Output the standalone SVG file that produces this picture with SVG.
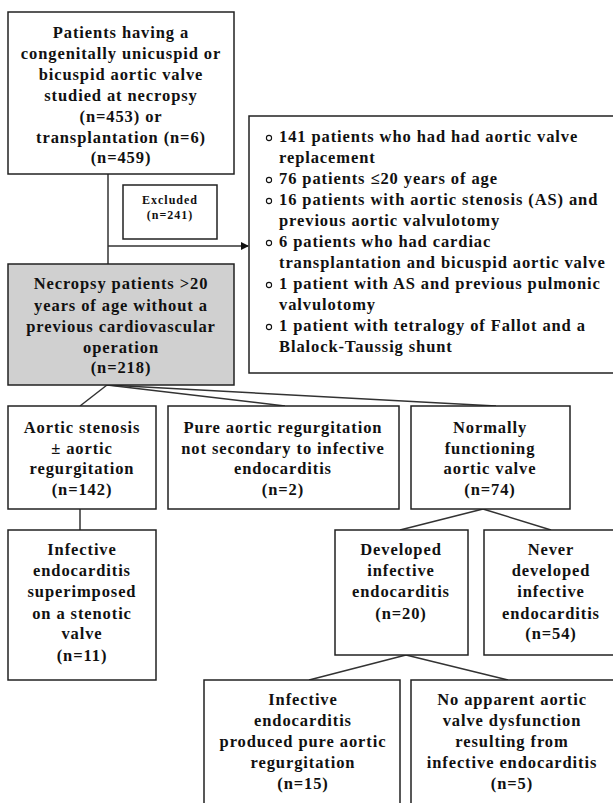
<svg xmlns="http://www.w3.org/2000/svg" width="613" height="803" viewBox="0 0 613 803">
<style>
.box{fill:#fff;stroke:#222;stroke-width:1.5}
.gray{fill:#d0d0d0;stroke:#222;stroke-width:1.5}
.t{font-family:"Liberation Serif","Times New Roman",serif;font-weight:bold;font-size:16.5px;fill:#111;text-anchor:middle;letter-spacing:0.9px}
.l{font-family:"Liberation Serif","Times New Roman",serif;font-weight:bold;font-size:16.5px;fill:#111;letter-spacing:0.9px}
.s{font-family:"Liberation Serif","Times New Roman",serif;font-weight:bold;font-size:12px;fill:#111;text-anchor:middle;letter-spacing:1px}
.c{stroke:#333;stroke-width:1.5;fill:none}
.b{fill:none;stroke:#111;stroke-width:1.1}
</style>
<defs>
<marker id="ah" markerWidth="8" markerHeight="8" refX="7" refY="4" orient="auto" markerUnits="userSpaceOnUse">
<path d="M0,0 L8,4 L0,8 Z" fill="#111"/>
</marker>
</defs>
<rect width="613" height="803" fill="#fff"/>
<g id="connectors">
<line class="c" x1="108" y1="174" x2="108" y2="264"/>
<line class="c" x1="108" y1="246" x2="248" y2="246" marker-end="url(#ah)"/>
<line class="c" x1="107" y1="385" x2="80" y2="406"/>
<line class="c" x1="107" y1="385" x2="285" y2="406"/>
<line class="c" x1="107" y1="385" x2="496" y2="406"/>
<line class="c" x1="80" y1="509" x2="80" y2="530"/>
<line class="c" x1="483" y1="509" x2="400" y2="530"/>
<line class="c" x1="483" y1="509" x2="551" y2="530"/>
<line class="c" x1="406" y1="655" x2="309" y2="680"/>
<line class="c" x1="406" y1="655" x2="508" y2="680"/>
</g>
<g id="n-start">
<rect class="box" x="8" y="12" width="226" height="162"/>
<text class="t" x="121" y="38">Patients having a</text>
<text class="t" x="121" y="59">congenitally unicuspid or</text>
<text class="t" x="121" y="80">bicuspid aortic valve</text>
<text class="t" x="121" y="101">studied at necropsy</text>
<text class="t" x="121" y="122">(n=453) or</text>
<text class="t" x="121" y="143">transplantation (n=6)</text>
<text class="t" x="121" y="163">(n=459)</text>
</g>
<g id="n-excluded">
<rect class="box" x="123" y="185" width="94" height="54"/>
<text class="s" x="170" y="204">Excluded</text>
<text class="s" x="170" y="219">(n=241)</text>
</g>
<g id="n-list">
<rect class="box" x="249" y="116" width="370" height="257"/>
<circle class="b" cx="269" cy="138" r="2.6"/>
<circle class="b" cx="269" cy="180" r="2.6"/>
<circle class="b" cx="269" cy="201" r="2.6"/>
<circle class="b" cx="269" cy="243" r="2.6"/>
<circle class="b" cx="269" cy="285" r="2.6"/>
<circle class="b" cx="269" cy="327" r="2.6"/>
<text class="l" x="279" y="142">141 patients who had had aortic valve</text>
<text class="l" x="279" y="163">replacement</text>
<text class="l" x="279" y="184">76 patients ≤20 years of age</text>
<text class="l" x="279" y="205">16 patients with aortic stenosis (AS) and</text>
<text class="l" x="279" y="226">previous aortic valvulotomy</text>
<text class="l" x="279" y="247">6 patients who had cardiac</text>
<text class="l" x="279" y="268">transplantation and bicuspid aortic valve</text>
<text class="l" x="279" y="289">1 patient with AS and previous pulmonic</text>
<text class="l" x="279" y="310">valvulotomy</text>
<text class="l" x="279" y="331">1 patient with tetralogy of Fallot and a</text>
<text class="l" x="279" y="352">Blalock-Taussig shunt</text>
</g>
<g id="n-necropsy">
<rect class="gray" x="8" y="264" width="226" height="121"/>
<text class="t" x="121" y="289">Necropsy patients &gt;20</text>
<text class="t" x="121" y="311">years of age without a</text>
<text class="t" x="121" y="332">previous cardiovascular</text>
<text class="t" x="121" y="353">operation</text>
<text class="t" x="121" y="373">(n=218)</text>
</g>
<g id="n-as">
<rect class="box" x="8" y="406" width="148" height="103"/>
<text class="t" x="82" y="433">Aortic stenosis</text>
<text class="t" x="82" y="454">± aortic</text>
<text class="t" x="82" y="474">regurgitation</text>
<text class="t" x="82" y="495">(n=142)</text>
</g>
<g id="n-ar">
<rect class="box" x="168" y="406" width="231" height="103"/>
<text class="t" x="283" y="433">Pure aortic regurgitation</text>
<text class="t" x="283" y="454">not secondary to infective</text>
<text class="t" x="283" y="474">endocarditis</text>
<text class="t" x="283" y="495">(n=2)</text>
</g>
<g id="n-normal">
<rect class="box" x="411" y="406" width="159" height="103"/>
<text class="t" x="490" y="433">Normally</text>
<text class="t" x="490" y="454">functioning</text>
<text class="t" x="490" y="474">aortic valve</text>
<text class="t" x="490" y="495">(n=74)</text>
</g>
<g id="n-ie-stenotic">
<rect class="box" x="8" y="530" width="148" height="150"/>
<text class="t" x="82" y="555">Infective</text>
<text class="t" x="82" y="576">endocarditis</text>
<text class="t" x="82" y="597">superimposed</text>
<text class="t" x="82" y="619">on a stenotic</text>
<text class="t" x="82" y="639">valve</text>
<text class="t" x="82" y="661">(n=11)</text>
</g>
<g id="n-developed">
<rect class="box" x="335" y="530" width="133" height="125"/>
<text class="t" x="401" y="555">Developed</text>
<text class="t" x="401" y="576">infective</text>
<text class="t" x="401" y="597">endocarditis</text>
<text class="t" x="401" y="619">(n=20)</text>
</g>
<g id="n-never">
<rect class="box" x="484" y="530" width="134" height="125"/>
<text class="t" x="551" y="555">Never</text>
<text class="t" x="551" y="576">developed</text>
<text class="t" x="551" y="597">infective</text>
<text class="t" x="551" y="619">endocarditis</text>
<text class="t" x="551" y="639">(n=54)</text>
</g>
<g id="n-pure-ar">
<rect class="box" x="204" y="680" width="196" height="130"/>
<text class="t" x="303" y="705">Infective</text>
<text class="t" x="303" y="726">endocarditis</text>
<text class="t" x="303" y="747">produced pure aortic</text>
<text class="t" x="303" y="768">regurgitation</text>
<text class="t" x="303" y="789">(n=15)</text>
</g>
<g id="n-no-dysfunction">
<rect class="box" x="411" y="680" width="204" height="130"/>
<text class="t" x="512" y="705">No apparent aortic</text>
<text class="t" x="512" y="726">valve dysfunction</text>
<text class="t" x="512" y="747">resulting from</text>
<text class="t" x="512" y="768">infective endocarditis</text>
<text class="t" x="512" y="789">(n=5)</text>
</g>
</svg>
